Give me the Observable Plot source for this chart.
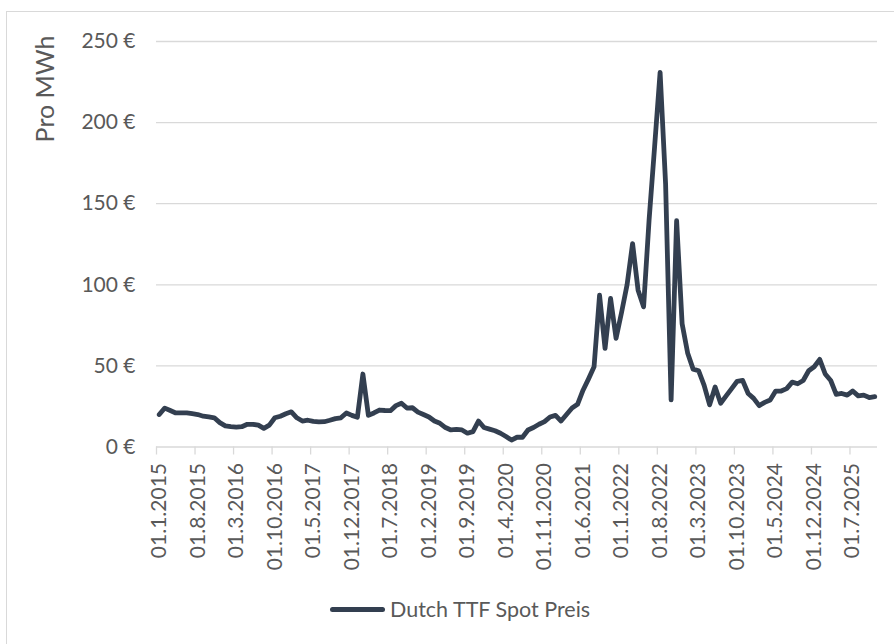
<!DOCTYPE html>
<html>
<head>
<meta charset="utf-8">
<script src="https://cdn.jsdelivr.net/npm/d3@7"></script>
<script src="https://cdn.jsdelivr.net/npm/@observablehq/plot@0.6"></script>
<style>
  html, body { margin: 0; width: 894px; height: 644px; overflow: hidden; background: #fff; }
  body { position: relative; font-family: Lato, "Open Sans", sans-serif; }
  #frame { position: absolute; left: 6px; top: 11px; width: 1000px; height: 1000px; border: 1px solid #d9d9d9; }
  #chart { position: absolute; left: 0; top: 0; }
  #legend { position: absolute; left: 330px; top: 596px; display: flex; align-items: center; gap: 5px;
            font-size: 21.5px; line-height: 26px; color: #595959; }
  #legend .swatch { width: 55px; height: 5px; border-radius: 3px; background: #333f50; }
</style>
</head>
<body>
<div id="frame"></div>
<div id="chart"></div>
<div id="legend"><span class="swatch"></span><span>Dutch TTF Spot Preis</span></div>
<script>
// Monthly Dutch TTF spot price, €/MWh, January 2015 to November 2025
const price = [
  20, 24, 22.5, 21, 21, 21, 20.5, 20, 19, 18.5, 18, 15,            // 2015
  13, 12.5, 12.2, 12.5, 14, 14, 13.5, 11.5, 13.5, 18, 19, 20.5,    // 2016
  21.7, 18, 16, 16.5, 15.8, 15.5, 15.6, 16.5, 17.5, 18, 21, 19.5,  // 2017
  18.3, 45, 19.5, 21, 22.8, 22.5, 22.4, 25.5, 27, 24, 24.2, 21.5,  // 2018
  20, 18.5, 16, 14.6, 12, 10.5, 10.8, 10.5, 8.5, 9.5, 16, 12,      // 2019
  11, 10, 8.5, 6.5, 4.3, 6, 6, 10.5, 12, 14, 15.6, 18.5,           // 2020
  19.5, 16, 20, 24, 26.3, 35, 42, 49.4, 93.6, 60.8, 91.6, 67,      // 2021
  83, 100, 125.4, 96.7, 86.4, 140, 185, 231, 162, 29, 139.5, 76,   // 2022
  58, 48, 47, 38, 26, 37, 27, 31.5, 36, 40.5, 41, 33,              // 2023
  30, 25.5, 27.5, 29, 34.5, 34.5, 36, 40, 39, 41, 47, 49.5,        // 2024
  54, 45, 41, 32.5, 33, 32, 34.5, 31.5, 32, 30.5, 31               // 2025
];

// Category axis: a label every seventh month
const tickMonths = [0, 7, 14, 21, 28, 35, 42, 49, 56, 63, 70, 77, 84, 91, 98, 105, 112, 119, 126];
const tickLabels = [
  "01.1.2015", "01.8.2015", "01.3.2016", "01.10.2016", "01.5.2017", "01.12.2017",
  "01.7.2018", "01.2.2019", "01.9.2019", "01.4.2020", "01.11.2020", "01.6.2021",
  "01.1.2022", "01.8.2022", "01.3.2023", "01.10.2023", "01.5.2024", "01.12.2024", "01.7.2025"
];
const yTicks = [0, 50, 100, 150, 200, 250];

const series = price.map((v, i) => ({month: i, value: v}));
const textColor = "#595959";
const gridColor = "#d9d9d9";

const chart = Plot.plot({
  width: 894,
  height: 590,
  marginLeft: 156,
  marginRight: 17,
  marginTop: 41,
  marginBottom: 143.5,
  x: {domain: [-0.5, price.length - 0.5], axis: null},
  y: {domain: [0, 250], axis: null},
  style: {fontFamily: "Lato, 'Open Sans', sans-serif", color: textColor, background: "transparent", overflow: "visible"},
  marks: [
    Plot.ruleY(yTicks, {stroke: gridColor, strokeWidth: 1.3}),
    Plot.axisY({
      ticks: yTicks, tickSize: 0, tickPadding: 21, label: null,
      tickFormat: d => `${d} €`, fontSize: 21, fill: textColor
    }),
    // tick marks sit on the boundaries between categories
    Plot.axisX({
      ticks: tickMonths.map(m => m - 0.5), tickSize: 8, tickFormat: () => "",
      stroke: gridColor, strokeWidth: 1.3, label: null
    }),
    Plot.axisX({
      ticks: tickMonths, tickSize: 0, tickPadding: 16, tickRotate: -90, label: null,
      tickFormat: d => tickLabels[tickMonths.indexOf(d)], fontSize: 21, fill: textColor
    }),
    Plot.line(series, {
      x: "month", y: "value", stroke: "#333f50", strokeWidth: 4.8,
      strokeLinejoin: "round", strokeLinecap: "round"
    }),
    Plot.text(["Pro MWh"], {
      frameAnchor: "top-left", rotate: -90, textAnchor: "end",
      dx: -120, dy: -6, fontSize: 25, fill: textColor
    })
  ]
});

document.getElementById("chart").appendChild(chart);
</script>
</body>
</html>
